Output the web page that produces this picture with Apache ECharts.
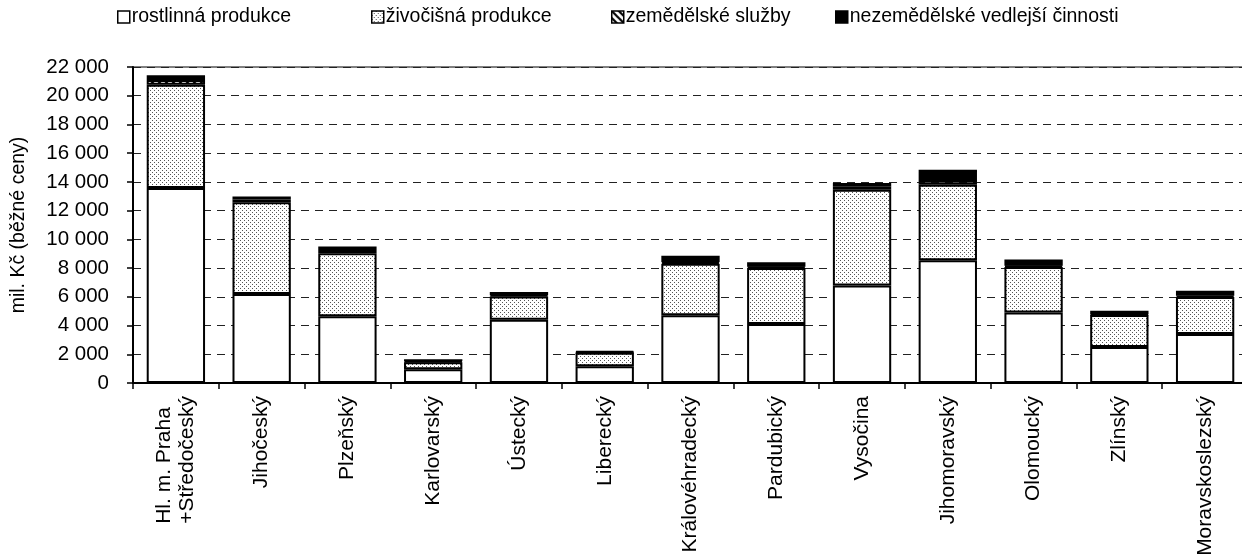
<!DOCTYPE html>
<html>
<head>
<meta charset="utf-8">
<script src="https://cdn.jsdelivr.net/npm/echarts@6/dist/echarts.min.js"></script>
<style>
html,body{margin:0;padding:0;background:#fff;}
#c{width:1242px;height:559px;}
</style>
</head>
<body>
<div id="c"></div>
<script>
var categories = ['Hl. m. Praha\n+Středočeský','Jihočeský','Plzeňský','Karlovarský','Ústecký','Liberecký','Královéhradecký','Pardubický','Vysočina','Jihomoravský','Olomoucký','Zlínský','Moravskoslezský'];
var seriesNames = ['rostlinná produkce','živočišná produkce','zemědělské služby','nezemědělské vedlejší činnosti'];
var rostlinna   = [13580, 6200, 4640,  950, 4410, 1160, 4710, 4110, 6780, 8540, 4900, 2500, 3410];
var zivocisna   = [ 7190, 6380, 4400,  500, 1620,  950, 3600, 3900, 6680, 5270, 3180, 2230, 2580];
var sluzby      = [  330,  200,  150,   60,   80,   30,  100,   80,  200,  150,   80,   50,   80];
var nezemedelske= [  320,  210,  320,  140,  230,   70,  450,  310,  270,  890,  430,  250,  360];
var yTicks = [0,2000,4000,6000,8000,10000,12000,14000,16000,18000,20000,22000];

var FONT = '"Liberation Sans", Arial, sans-serif';

function dotPattern(){
  var c = document.createElement('canvas'); c.width = 4; c.height = 4;
  var g = c.getContext('2d');
  g.fillStyle = '#fff'; g.fillRect(0,0,4,4);
  g.fillStyle = '#555'; g.fillRect(0,0,1,1); g.fillRect(2,2,1,1);
  return c;
}
function hatchPattern(){
  var n = 7;
  var c = document.createElement('canvas'); c.width = n; c.height = n;
  var g = c.getContext('2d');
  g.fillStyle = '#fff'; g.fillRect(0,0,n,n);
  g.strokeStyle = '#000'; g.lineWidth = 2.2;
  g.beginPath();
  g.moveTo(-1,-1); g.lineTo(n+1,n+1);
  g.moveTo(-1,n-1); g.lineTo(1,n+1);
  g.moveTo(n-1,-1); g.lineTo(n+1,1);
  g.stroke();
  return c;
}
var fills = ['#ffffff', {image: dotPattern(), repeat: 'repeat'}, {image: hatchPattern(), repeat: 'repeat'}, '#000000'];
var values = [rostlinna, zivocisna, sluzby, nezemedelske];
var legendLeft = [117, 371, 611, 835];

var series = seriesNames.map(function(name, i){
  return {
    name: name, type: 'bar', stack: 'total', barCategoryGap: '32%',
    data: values[i],
    itemStyle: {color: fills[i], borderColor: '#000', borderWidth: 2},
    emphasis: {disabled: true}
  };
});

var legends = seriesNames.map(function(name, i){
  return {
    data: [name], left: legendLeft[i], top: 7, padding: 0,
    icon: 'rect', itemWidth: 12, itemHeight: 12,
    itemStyle: {borderColor: '#000', borderWidth: 1.5},
    textStyle: {fontFamily: FONT, fontSize: 19.5, color: '#000', padding: [0,0,0,-3]},
    selectedMode: false
  };
});

var chart = echarts.init(document.getElementById('c'), null, {renderer: 'canvas'});
chart.setOption({
  animation: false,
  backgroundColor: '#fff',
  legend: legends,
  grid: {left: 133, top: 67, width: 1115, height: 316, outerBoundsMode: 'none', containLabel: false,
         show: true, borderColor: '#000', borderWidth: 1, backgroundColor: 'transparent'},
  xAxis: {
    type: 'category', data: categories,
    axisLine: {lineStyle: {color: '#000', width: 2}},
    axisTick: {show: true, length: 6, lineStyle: {color: '#000', width: 1.5}},
    axisLabel: {
      rotate: 90, margin: 13, color: '#000', fontFamily: FONT, fontSize: 21, interval: 0,
      hideOverlap: false,
      formatter: function(v){
        return v.split('\n').map(function(s){ return '{a|' + s + '}'; }).join('\n');
      },
      rich: {a: {align: 'left', fontFamily: FONT, fontSize: 21, color: '#000', lineHeight: 23}}
    }
  },
  yAxis: {
    type: 'value', min: 0, max: 22000, interval: 2000,
    name: 'mil. Kč (běžné ceny)', nameLocation: 'middle', nameGap: 104,
    nameTextStyle: {fontFamily: FONT, fontSize: 19.5, color: '#000'},
    axisLine: {show: true, lineStyle: {color: '#000', width: 2}},
    axisTick: {show: true, length: 6, lineStyle: {color: '#000', width: 1.5}},
    axisLabel: {
      margin: 24, color: '#000', fontFamily: FONT, fontSize: 20.5,
      formatter: function(v){ return yTicks.indexOf(v) >= 0 ? String(v).replace(/\B(?=(\d{3})+(?!\d))/g, ' ') : ''; }
    },
    splitLine: {show: true, lineStyle: {color: '#222', width: 1, type: [8,6]}}
  },
  series: series
});
</script>
</body>
</html>
